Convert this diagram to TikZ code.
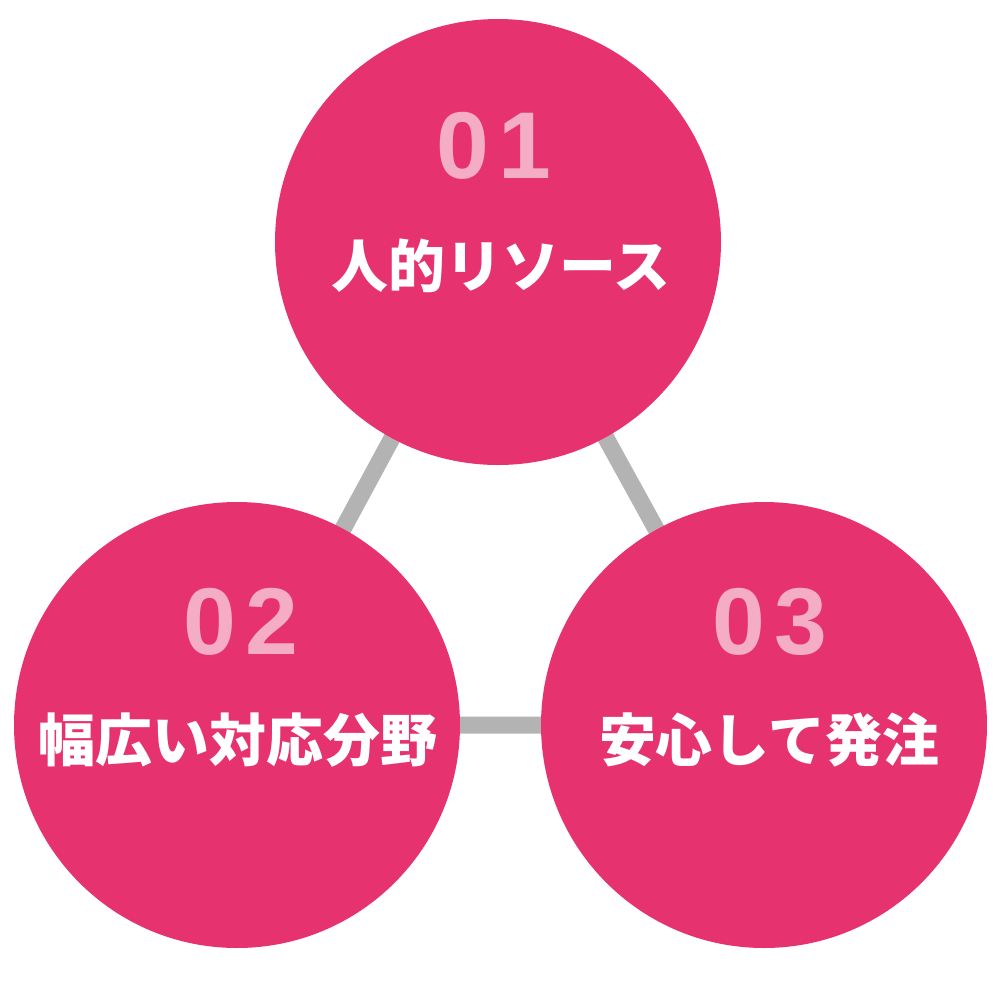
\documentclass[tikz,border=0pt]{standalone}
\usepackage{fontspec}
\newfontfamily\jpfont{Noto Sans CJK JP}
\newfontfamily\numfont[LetterSpace=10]{Liberation Sans}
\usetikzlibrary{backgrounds}
\definecolor{rose}{HTML}{E6326E}
\definecolor{lightrose}{HTML}{F5ADC6}
\definecolor{linkgray}{HTML}{B3B3B3}
\begin{document}
\begin{tikzpicture}[x=0.1mm,y=-0.1mm,
  bubble/.style={circle,fill=rose,minimum size=44.6mm,inner sep=0pt},
  num/.style={text=lightrose,inner sep=0pt,font=\numfont\bfseries\fontsize{27pt}{27pt}\selectfont},
  title/.style={text=white,inner sep=0pt,font=\jpfont\bfseries\fontsize{16.2pt}{18pt}\selectfont},
  link/.style={linkgray,line width=1.7mm}]
  \useasboundingbox (0,0) rectangle (1000,1000);
  % three circles
  \node[bubble] (c1) at (498,242) {};
  \node[bubble] (c2) at (237,725) {};
  \node[bubble] (c3) at (764,725) {};
  % numbers and titles
  \node[num] (n1) at (494,146) {01};
  \node[num] (n2) at (241,622) {02};
  \node[num] (n3) at (770,622) {03};
  \node[title] (t1) at (501,266) {人的リソース};
  \node[title] (t2) at (238,740) {幅広い対応分野};
  \node[title] (t3) at (769,740) {安心して発注};
  \begin{pgfonlayer}{background}
    \draw[link] (c1.center) -- (c2.center) -- (c3.center) -- (c1.center);
  \end{pgfonlayer}
\end{tikzpicture}
\end{document}
